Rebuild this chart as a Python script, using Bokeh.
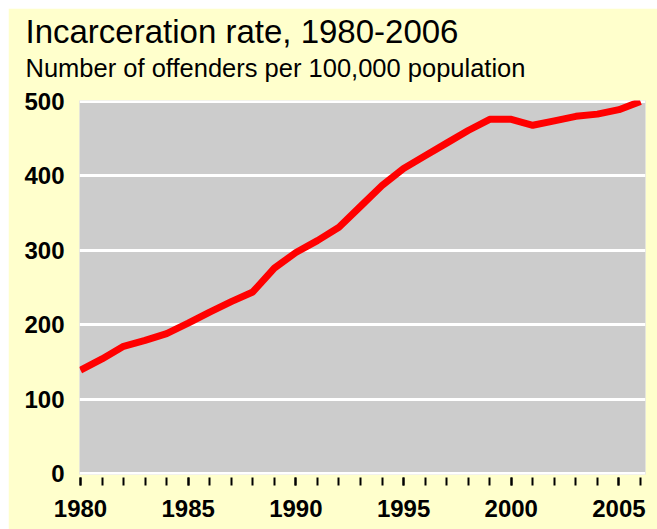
from bokeh.plotting import figure
from bokeh.models import Range1d, FixedTicker, Title, Spacer
from bokeh.layouts import column, row
from bokeh.embed import file_html
from bokeh.resources import INLINE

# ---- data ----
years = [1980, 1981, 1982, 1983, 1984, 1985, 1986, 1987, 1988, 1989,
         1990, 1991, 1992, 1993, 1994, 1995, 1996, 1997, 1998, 1999,
         2000, 2001, 2002, 2003, 2004, 2005, 2006]
rates = [139, 154, 171, 179, 188, 202, 217, 231, 244, 276,
         297, 313, 331, 359, 387, 410, 427, 444, 461, 476,
         476, 468, 474, 480, 483, 489, 500]
y_ticks = [0, 100, 200, 300, 400, 500]
x_major = [1980, 1985, 1990, 1995, 2000, 2005]
title_text = "Incarceration rate, 1980-2006"
subtitle_text = "Number of offenders per 100,000 population"

# ---- layout ----
W, H = 649, 521
FL, FR, FT, FB = 71, 637, 92, 466      # frame edges in figure px
X0, X1 = 1979.954, 2006.232
Y0, Y1 = -1.3, 501.3

p = figure(width=W, height=H, output_backend="svg", toolbar_location=None,
           title=None,
           x_range=Range1d(X0, X1), y_range=Range1d(Y0, Y1),
           min_border_left=FL, min_border_right=W - FR,
           min_border_top=FT, min_border_bottom=H - FB)

p.background_fill_color = "#CCCCCC"
p.border_fill_color = "#FFFFCC"
p.outline_line_color = None

p.xgrid.grid_line_color = None
p.ygrid.ticker = FixedTicker(ticks=y_ticks)
p.ygrid.grid_line_color = "white"
p.ygrid.grid_line_width = 3

# y axis
p.yaxis.ticker = FixedTicker(ticks=y_ticks)
p.yaxis.axis_line_color = None
p.yaxis.major_tick_line_color = None
p.yaxis.minor_tick_line_color = None
p.yaxis.major_tick_out = 0
p.yaxis.major_tick_in = 0
p.yaxis.major_label_standoff = 15
p.yaxis.major_label_text_font = "Liberation Sans"
p.yaxis.major_label_text_font_style = "bold"
p.yaxis.major_label_text_font_size = "24px"
p.yaxis.major_label_text_color = "black"

# x axis
p.xaxis.ticker = FixedTicker(ticks=x_major, minor_ticks=years)
p.xaxis.axis_line_color = None
p.xaxis.major_tick_line_color = "black"
p.xaxis.minor_tick_line_color = "black"
p.xaxis.major_tick_line_width = 2
p.xaxis.minor_tick_line_width = 2
p.xaxis.major_tick_in = -3
p.xaxis.major_tick_out = 11
p.xaxis.minor_tick_in = -3
p.xaxis.minor_tick_out = 11
p.xaxis.major_label_standoff = 14
p.xaxis.major_label_text_font = "Liberation Sans"
p.xaxis.major_label_text_font_style = "bold"
p.xaxis.major_label_text_font_size = "24px"
p.xaxis.major_label_text_color = "black"

p.line(years, rates, line_color="#FF0000", line_width=7)

p.add_layout(Title(text=subtitle_text, align="left", offset=17 - FL, standoff=37,
                   text_font="Liberation Sans", text_font_size="25.5px",
                   text_font_style="normal", text_color="black"), "above")
p.add_layout(Title(text=title_text, align="left", offset=17 - FL, standoff=-33,
                   text_font="Liberation Sans", text_font_size="33px",
                   text_font_style="normal", text_color="black"), "above")

layout = column(Spacer(height=8), row(Spacer(width=8), p))
open("out.html", "w").write(file_html(layout, INLINE))
